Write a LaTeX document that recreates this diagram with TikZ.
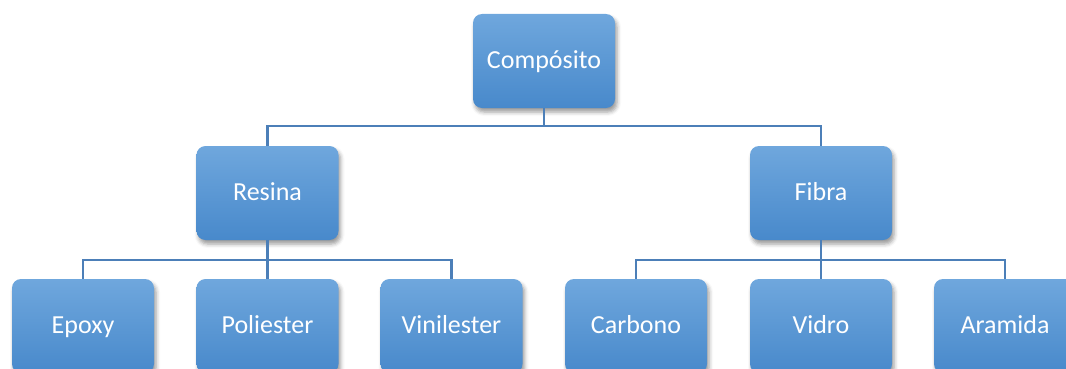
\documentclass[tikz,border=0pt]{standalone}
\usepackage{fontspec}
\setmainfont{Carlito}
\usetikzlibrary{shadows.blur}
\definecolor{boxtop}{HTML}{6FA7DD}
\definecolor{boxbot}{HTML}{4889CB}
\definecolor{linec}{HTML}{4C7FB8}
\tikzset{
  box/.style={draw=none, rounded corners=9pt, minimum width=142pt, minimum height=94pt,
    top color=boxtop, bottom color=boxbot, text=white, font=\fontsize{26}{30}\selectfont,
    text height=16pt, text depth=1pt,
    blur shadow={shadow xshift=2pt, shadow yshift=-4pt, shadow blur radius=4pt, shadow opacity=40}},
  conn/.style={draw=linec, line width=2.4pt}
}
\begin{document}
\begin{tikzpicture}[x=1pt,y=-1pt]
\useasboundingbox (0,0) rectangle (1066,369);
\clip (0,0) rectangle (1066,369);
\coordinate (bus1) at (544,126);
\coordinate (bus2) at (267.5,260);
\coordinate (bus3) at (821,260);
\node[box] (comp) at (544,61) {Compósito};
\node[box] (resina) at (267.5,193) {Resina};
\node[box] (fibra) at (821,193) {Fibra};
\node[box] (epoxy) at (83,326) {Epoxy};
\node[box] (poli) at (267.5,326) {Poliester};
\node[box] (vini) at (451.5,326) {Vinilester};
\node[box] (carb) at (636,326) {Carbono};
\node[box] (vidro) at (821,326) {Vidro};
\node[box] (aram) at (1005,326) {Aramida};
\begin{scope}[conn]
\draw (comp.south) -- (bus1);
\draw (bus1) -| (resina.north);
\draw (bus1) -| (fibra.north);
\draw (resina.south) -- (bus2);
\draw (bus2) -| (epoxy.north);
\draw (bus2) -| (vini.north);
\draw (bus2) -- (poli.north);
\draw (fibra.south) -- (bus3);
\draw (bus3) -| (carb.north);
\draw (bus3) -| (aram.north);
\draw (bus3) -- (vidro.north);
\end{scope}
\end{tikzpicture}
\end{document}
